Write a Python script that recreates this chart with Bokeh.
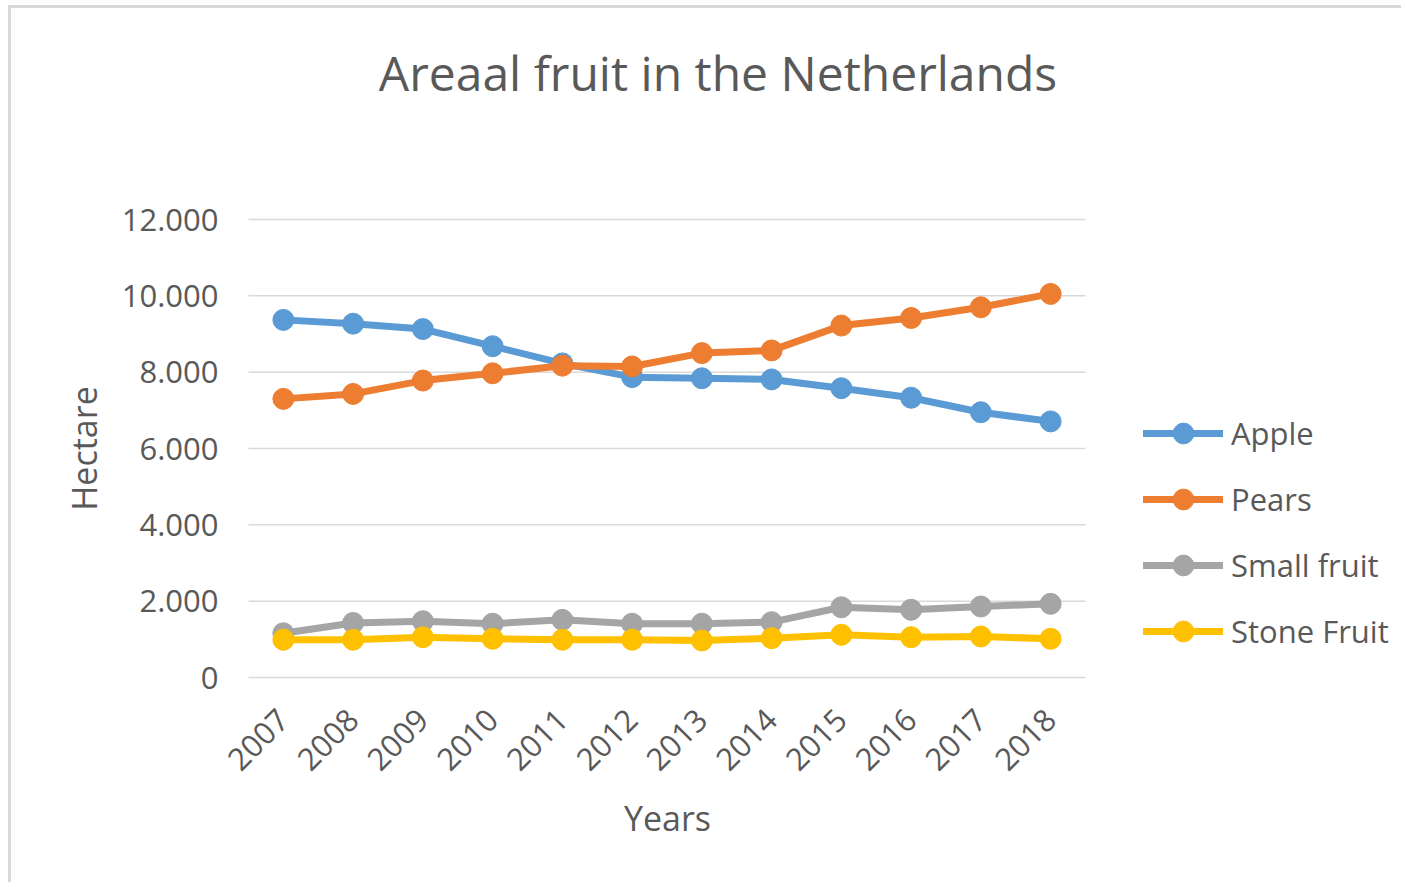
import math
from bokeh.plotting import figure
from bokeh.models import Range1d, FixedTicker, Legend, LegendItem, Label
from bokeh.embed import file_html
from bokeh.resources import INLINE

years = [2007, 2008, 2009, 2010, 2011, 2012, 2013, 2014, 2015, 2016, 2017, 2018]
year_labels = ["2007", "2008", "2009", "2010", "2011", "2012", "2013", "2014", "2015", "2016", "2017", "2018"]
apple = [9370, 9270, 9130, 8680, 8230, 7870, 7840, 7810, 7580, 7330, 6950, 6710]
pears = [7300, 7430, 7780, 7970, 8170, 8150, 8500, 8570, 9220, 9420, 9700, 10050]
small_fruit = [1160, 1430, 1475, 1410, 1510, 1410, 1410, 1450, 1840, 1775, 1860, 1930]
stone_fruit = [990, 990, 1055, 1015, 990, 990, 970, 1030, 1120, 1055, 1075, 1015]
series_names = ["Apple", "Pears", "Small fruit", "Stone Fruit"]
series_values = [apple, pears, small_fruit, stone_fruit]
series_colors = ["#5B9BD5", "#ED7D31", "#A5A5A5", "#FFC000"]
y_ticks = [0, 2000, 4000, 6000, 8000, 10000, 12000]
y_tick_labels = ["0", "2.000", "4.000", "6.000", "8.000", "10.000", "12.000"]
title_text = "Areaal fruit in the Netherlands"
x_title = "Years"
y_title = "Hectare"

FONT = "Open Sans"
GREY = "#595959"

# canvas layout (pixels): the whole canvas is the drawing area
W, H = 1393, 877
band_left, band_w = 237, 837      # category band inside canvas
zero_y, val_h = 669, 458          # pixel row of value 0 (from top) and height of 0..12000
x0 = years[0] - 0.5
x1 = years[-1] + 0.5
px_per_x = band_w / (x1 - x0)
px_per_y = val_h / y_ticks[-1]
x_start = x0 - band_left / px_per_x
y_start = -(H - zero_y) / px_per_y

p = figure(width=W, height=H, output_backend="svg", toolbar_location=None,
           x_range=Range1d(x_start, x_start + W / px_per_x),
           y_range=Range1d(y_start, y_start + H / px_per_y),
           min_border_left=0, min_border_right=0, min_border_top=0, min_border_bottom=0,
           outline_line_color=None, background_fill_color="white", border_fill_color="white")
p.styles = {"margin-left": "8px", "margin-top": "5px",
            "border-left": "3px solid #d9d9d9", "border-top": "3px solid #d9d9d9"}

p.xgrid.grid_line_color = None
p.ygrid.grid_line_color = None

# horizontal gridlines across the category band
p.segment(x0=[x0] * len(y_ticks), x1=[x1] * len(y_ticks), y0=y_ticks, y1=y_ticks,
          line_color="#d9d9d9", line_width=1.5)

p.yaxis.ticker = FixedTicker(ticks=y_ticks)
p.yaxis.major_label_overrides = {t: l for t, l in zip(y_ticks, y_tick_labels)}
p.yaxis.fixed_location = x0
p.xaxis.ticker = FixedTicker(ticks=years)
p.xaxis.major_label_overrides = {y: l for y, l in zip(years, year_labels)}
p.xaxis.fixed_location = y_ticks[0]

for ax in (p.xaxis[0], p.yaxis[0]):
    ax.axis_line_color = None
    ax.major_tick_line_color = None
    ax.minor_tick_line_color = None
    ax.major_tick_in = 0
    ax.major_tick_out = 0
    ax.major_label_text_font = FONT
    ax.major_label_text_font_size = "31px"
    ax.major_label_text_color = GREY
    ax.axis_label = None

p.yaxis.major_label_standoff = 30
p.xaxis.major_label_orientation = math.pi / 4
p.xaxis.major_label_standoff = 37

items = []
for name, vals, col in zip(series_names, series_values, series_colors):
    r1 = p.line(years, vals, line_color=col, line_width=7, line_join="round", line_cap="round")
    r2 = p.scatter(years, vals, marker="circle", size=21, fill_color=col, line_color=col, line_width=1)
    items.append(LegendItem(label=name, renderers=[r1, r2]))

legend = Legend(items=items, location=(1132, 228), orientation="vertical",
                glyph_width=80, glyph_height=52, spacing=14, label_standoff=8,
                padding=0, margin=0, border_line_color=None, background_fill_alpha=0,
                label_text_font=FONT, label_text_font_size="31px", label_text_color=GREY)
p.add_layout(legend, "center")

title = Label(x=706.5, y=813, x_units="screen", y_units="screen", text=title_text,
              text_align="center", text_baseline="alphabetic",
              text_font=FONT, text_font_size="48px", text_color=GREY)
p.add_layout(title)

xlab = Label(x=656, y=68, x_units="screen", y_units="screen", text=x_title,
             text_align="center", text_baseline="alphabetic",
             text_font=FONT, text_font_size="34px", text_color=GREY)
p.add_layout(xlab)

ylab = Label(x=72, y=437, x_units="screen", y_units="screen", text=y_title, angle=math.pi / 2,
             text_align="center", text_baseline="alphabetic",
             text_font=FONT, text_font_size="34px", text_color=GREY)
p.add_layout(ylab)

open("out.html", "w").write(file_html(p, INLINE))
